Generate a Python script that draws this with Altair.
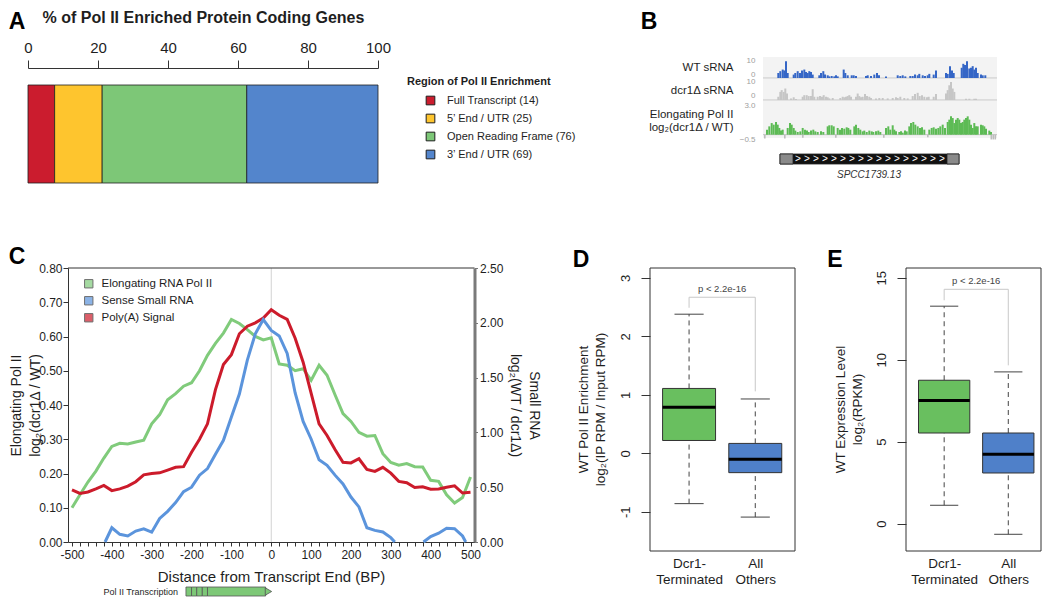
import altair as alt
import pandas as pd

FONT = "Liberation Sans"
W, H = 1034, 591          # drawing area (page minus the 8px body margin)
M = 8


def v(p):
    """page pixel -> view pixel"""
    return p - M


# ------------------------------------------------------------------ data
# Panel A
a_regions = ["Full Transcript (14)", "5\u2019 End / UTR (25)",
             "Open Reading Frame (76)", "3\u2019 End / UTR (69)"]
a_counts = [14, 25, 76, 69]
a_colors = ["#CB1C2E", "#FEC52E", "#7DC777", "#5385CC"]

# Panel B (locus position 0-234)
wt_pos = [14.3, 16.3, 18.7, 20.3, 22, 23.7, 29.7, 31.3, 33.7, 36, 38, 40.3, 42, 43.7, 45.3, 47, 48.7,
          55.3, 57, 59.3, 61, 63.7, 65.3, 67.7, 70.3, 72, 73.7, 79.7, 81.3, 83.7, 87.7, 89.7, 92,
          102, 103.7, 107, 110.3, 113, 115, 122, 133.7, 136.3, 138.7, 141.3, 146.3, 148.7, 151,
          153.7, 155.3, 158.7, 161, 163.7, 165.3, 169.7, 172, 182, 183.7, 186, 188, 189.7, 197.7,
          199.3, 201, 203, 205.3, 207, 208.7, 210.3, 212, 213.7, 217, 218.7, 221.3]
wt_val = [2.8, 3.8, 4.7, 4.2, 9.4, 2.8, 1.9, 2.8, 3.8, 2.8, 4.2, 4.7, 3.4, 2.8, 3.8, 3.4, 1.9,
          1.5, 2.8, 3.8, 1.9, 1.5, 0.9, 1.1, 0.9, 1.5, 0.9, 4.7, 2.8, 1.5, 1.5, 1.5, 1.1,
          1.1, 1.5, 1.1, 1.9, 2.8, 1.5, 0.9, 1.5, 1.1, 1.5, 0.9, 1.1, 1.1, 1.9,
          1.5, 2.3, 1.5, 1.1, 1.5, 2.3, 1.9, 4.2, 2.8, 2.3, 6.6, 4.2, 2.8, 5.7,
          7.9, 7.2, 9.4, 5.3, 5.7, 6.6, 4.7, 5.7, 2.8, 1.9, 1.5, 1.5]
dcr_pos = [14.3, 16.3, 17.7, 19.7, 21.3, 23, 27, 29.7, 32, 38.7, 40.3, 42.7, 44.7, 47, 48.7, 50.3,
           53.7, 56, 58, 59.7, 62, 63.7, 65.3, 68.7, 76.3, 78.7, 80.3, 82, 83.7, 85.3, 87,
           92, 93.7, 95.3, 97, 98.7, 101, 103, 105.3, 107, 112, 115.3, 118.7, 123.7, 128.7, 132,
           133.7, 136.3, 140.3, 143.7, 148.7, 151, 153.7, 155.7, 158, 160.3, 163, 164.7, 169.7, 172,
           182, 183.7, 185.3, 187, 188.7, 190.3, 202, 205.3, 210.3, 212]
dcr_val = [1.8, 4.5, 5.5, 4.5, 6.4, 3.6, 0.9, 1.5, 0.5, 1.8, 2.7, 2.7, 2.2, 2.2, 6.0, 1.8,
           1.8, 2.2, 1.8, 2.7, 1.8, 1.5, 0.9, 1.1, 1.1, 1.8, 1.5, 1.8, 2.2, 2.7, 1.8,
           1.8, 3.6, 2.2, 1.5, 1.8, 3.3, 2.2, 1.8, 1.1, 0.9, 1.1, 1.1, 0.9, 1.1, 1.5,
           1.1, 1.8, 1.1, 0.9, 2.2, 3.3, 4.0, 2.2, 2.7, 1.8, 1.5, 1.8, 1.8, 3.3,
           3.6, 5.5, 8.2, 10.0, 6.4, 4.5, 0.7, 0.7, 0.7, 0.7]
pol_pos = [3, 5.3, 7.7, 9.7, 12, 13.7, 15.3, 17, 18.7, 23.7, 26, 27.7, 29.7, 31.3, 33.7, 36.3,
           38.7, 41, 43, 44.7, 47, 49.3, 51.3, 53.7, 57, 59.3, 63.7, 65.3, 67.7, 69.7, 73.7, 76,
           78, 80.3, 82.7, 84.3, 86.3, 90.3, 92, 94.3, 96.3, 98.7, 100.3, 102.7, 105.3, 107.7,
           109.3, 112, 114.3, 116.3, 122, 124.3, 126.3, 128.7, 130.3, 132, 135.3, 137, 138.7, 141,
           142.7, 145.3, 147, 149.3, 151.3, 153.7, 156, 158, 160.3, 165.3, 167.7, 169.7, 172,
           174.3, 176.3, 178.7, 181, 183.7, 185.3, 187, 188.7, 190.3, 192, 193.7, 195.3, 197,
           198.7, 200.3, 202, 203.7, 205.3, 207, 208.7, 210.3, 212, 213.7, 217, 218.7, 220.3, 222,
           225.3, 227]
pol_val = [0.47, 0.78, 1.09, 0.94, 1.19, 0.94, 0.63, 0.38, 0.47, 0.63, 1.09, 0.94, 0.63, 0.38,
           0.25, 0.31, 0.63, 0.47, 0.38, 0.25, 0.38, 0.47, 0.31, 0.25, 0.31, 0.25, 0.78, 0.88,
           0.88, 0.78, 0.63, 0.47, 0.63, 0.56, 0.69, 0.63, 0.47, 0.78, 0.94, 0.63, 0.47, 0.31,
           0.38, 0.25, 0.38, 0.31, 0.25, 0.31, 0.38, 0.25, 0.63, 0.78, 0.47, 0.88, 0.47, 0.31,
           0.25, 0.31, 0.19, 0.38, 0.31, 0.78, 1.09, 1.19, 0.94, 0.78, 0.63, 0.69, 0.47, 0.47,
           0.63, 0.69, 0.56, 0.63, 0.78, 0.94, 0.63, 1.19, 1.41, 1.72, 1.56, 1.09, 1.41, 1.56,
           1.41, 1.09, 1.19, 1.41, 1.56, 1.72, 1.41, 0.94, 0.63, 1.09, 0.78, 0.78, 0.94, 0.88,
           0.78, 0.56, 0.38, 0.25]
# small negative (grey) Pol II bins below the baseline
pol_neg_pos = [1, 21, 39, 72, 120, 164, 227.5, 229.5, 231.5]
pol_neg_val = [-0.35, -0.35, -0.3, -0.3, -0.3, -0.25, -0.45, -0.45, -0.45]
gene_part = ["CDS", "UTR", "UTR"]
gene_start = [17, 17, 184]
gene_end = [196, 30, 196]
gene_arrows = [35, 44, 53, 62, 71, 80, 89, 98, 107, 116, 125, 134, 143, 152, 161, 170, 179]
gene_name = "SPCC1739.13"

# Panel C
c_names = ["Elongating RNA Pol II", "Sense Small RNA", "Poly(A) Signal"]
c_bp = [-500, -480, -460, -440, -420, -400, -380, -360, -340, -320, -300, -280, -260, -240, -220,
        -200, -180, -160, -140, -120, -100, -80, -60, -40, -20, 0, 20, 40, 60, 80, 100, 120, 140,
        160, 180, 200, 220, 240, 260, 280, 300, 320, 340, 360, 380, 400, 420, 440, 460, 480, 500]
c_pol = [0.10, 0.138, 0.175, 0.207, 0.245, 0.279, 0.288, 0.286, 0.292, 0.297, 0.345, 0.372, 0.415,
         0.433, 0.455, 0.465, 0.50, 0.545, 0.58, 0.61, 0.65, 0.638, 0.62, 0.60, 0.59, 0.596, 0.52,
         0.516, 0.50, 0.506, 0.472, 0.516, 0.487, 0.43, 0.375, 0.352, 0.32, 0.309, 0.311, 0.258,
         0.232, 0.224, 0.229, 0.22, 0.219, 0.18, 0.177, 0.138, 0.114, 0.13, 0.19]
c_polya = [0.152, 0.142, 0.146, 0.155, 0.165, 0.150, 0.155, 0.163, 0.176, 0.196, 0.200, 0.202,
           0.210, 0.218, 0.220, 0.262, 0.300, 0.345, 0.445, 0.518, 0.547, 0.608, 0.630, 0.640,
           0.654, 0.678, 0.662, 0.650, 0.595, 0.525, 0.435, 0.345, 0.311, 0.270, 0.233, 0.231,
           0.243, 0.212, 0.206, 0.218, 0.201, 0.177, 0.173, 0.159, 0.161, 0.154, 0.155, 0.160,
           0.164, 0.143, 0.145]
c_srna_bp = [-417, -400, -380, -360, -340, -320, -300, -280, -260, -240, -220, -200, -180, -160,
             -140, -120, -100, -80, -60, -40, -20, 0, 20, 40, 60, 80, 100, 120, 140, 160, 180,
             200, 220, 240, 260, 280, 300, 310,
             382, 400, 420, 440, 460, 480, 488]
c_srna = [0.0, 0.13, 0.07, 0.055, 0.10, 0.12, 0.09, 0.215, 0.28, 0.36, 0.46, 0.50, 0.61, 0.67,
          0.80, 0.928, 1.14, 1.35, 1.66, 1.90, 2.03, 1.93, 1.88, 1.72, 1.36, 1.10, 0.94, 0.75,
          0.70, 0.61, 0.53, 0.41, 0.32, 0.13, 0.106, 0.091, 0.04, 0.0,
          0.0, 0.05, 0.08, 0.125, 0.122, 0.055, 0.0]
c_srna_seg = [1] * 38 + [2] * 7
tx_start = [-214, -200, -187, -173, -160]
tx_end = [-200, -187, -173, -160, -14]

# Panels D / E
groups = ["Dcr1-Terminated", "All Others"]
d_min = [-0.86, -1.09]
d_q1 = [0.22, -0.33]
d_med = [0.79, -0.10]
d_q3 = [1.11, 0.17]
d_max = [2.38, 0.93]
d_bracket = [2.49, 2.67, 1.06]
d_p_y = 2.81
e_min = [1.12, -0.65]
e_q1 = [5.53, 3.09]
e_med = [7.51, 4.23]
e_q3 = [8.75, 5.53]
e_max = [13.27, 9.26]
e_bracket = [13.63, 14.3, 9.66]
e_p_y = 14.81
p_label = "p < 2.2e-16"

# ------------------------------------------------------------------ styles
C_GREEN, C_BLUE, C_RED = "#80CB7B", "#5B94DC", "#CC1B2B"
BOX_COLORS = ["#69BF5F", "#4F80C9"]
INK = "#1e1e1e"
one = pd.DataFrame({"k": [0]})

# ------------------------------------------------------------------ panel A
dfA = pd.DataFrame({"region": a_regions, "genes": a_counts, "rank": [0, 1, 2, 3], "row": ["all"] * 4})
panelA = alt.Chart(dfA).transform_joinaggregate(total="sum(genes)").transform_calculate(
    pct="100 * datum.genes / datum.total"
).mark_bar(stroke=INK, strokeWidth=0.8).encode(
    x=alt.X("pct:Q", stack="zero",
            scale=alt.Scale(domain=[0, 100], range=[v(28), v(378)], nice=False, zero=False),
            axis=alt.Axis(orient="top", offset=-v(68), values=[0, 20, 40, 60, 80, 100],
                          tickSize=8, tickColor="#333", domainColor="#333", labelFontSize=15,
                          labelPadding=5, labelFlush=False, labelColor=INK,
                          title="% of Pol II Enriched Protein Coding Genes", titleFontSize=16,
                          titleFontWeight="bold", titleColor=INK, titleX=v(203), titleY=17 - 68,
                          titleBaseline="middle", titleAlign="center")),
    y=alt.Y("row:N", scale=alt.Scale(range=[v(85), v(183)], paddingInner=0, paddingOuter=0), axis=None),
    color=alt.Color("region:N", scale=alt.Scale(domain=a_regions, range=a_colors),
                    legend=alt.Legend(orient="none", legendX=v(407), legendY=v(76),
                                      title="Region of Pol II Enrichment", titleFontSize=11,
                                      titleFontWeight="bold", titleColor=INK, titlePadding=8,
                                      labelFontSize=11, labelColor=INK, symbolType="square",
                                      symbolSize=75, symbolStrokeColor=INK, symbolStrokeWidth=1,
                                      symbolOffset=18, labelOffset=11, rowPadding=5, padding=0)),
    order=alt.Order("rank:Q"),
)

# ------------------------------------------------------------------ panel B
SRNA_BASELINE = {"condition": {"test": "datum.value == 0", "value": "bottom"}, "value": "middle"}
POL_BASELINE = {"condition": {"test": "datum.value > 0", "value": "top"}, "value": "middle"}


def b_axis(title, ty, values, fmt, baseline, loff):
    return alt.Axis(orient="left", offset=-v(757), values=values, format=fmt, ticks=False,
                    tickSize=0, domain=False, labelFontSize=8, labelColor="#a0a0a0",
                    labelPadding=2, labelBaseline=baseline, labelOffset=loff, title=title,
                    titleAngle=0, titleAlign="right", titleBaseline="middle", titleX=733 - 757,
                    titleY=v(ty), titleFontSize=11.5, titleFontWeight="normal", titleColor=INK,
                    titleLineHeight=13.5)


def b_track(pos, val, color, ydom, yrng, bg, axis, neg=None):
    xs = alt.Scale(domain=[0, 234], range=[v(763), v(997)], nice=False, zero=False)
    ys = alt.Scale(domain=ydom, range=yrng, nice=False, zero=False)
    back = alt.Chart(one).mark_rect(color="#f3f3f3").encode(
        x=alt.XDatum(0, type="quantitative", scale=xs, axis=None), x2=alt.X2Datum(234),
        y=alt.YDatum(bg[0], type="quantitative", scale=ys, axis=axis), y2=alt.Y2Datum(bg[1]))
    base = alt.Chart(one).mark_rule(color="#c4c4c4", strokeWidth=1).encode(
        x=alt.XDatum(0, type="quantitative", axis=None), x2=alt.X2Datum(234),
        y=alt.YDatum(0, type="quantitative", axis=axis))
    bars = alt.Chart(pd.DataFrame({"pos": pos, "val": val})).transform_calculate(
        pos2="datum.pos + 2.0").mark_rect(color=color).encode(
        x=alt.X("pos:Q", axis=None), x2="pos2:Q",
        y=alt.Y("val:Q", axis=axis), y2=alt.Y2Datum(0))
    layers = [back, base, bars]
    if neg is not None:
        layers.append(alt.Chart(pd.DataFrame({"pos": neg[0], "val": neg[1]})).transform_calculate(
            pos2="datum.pos + 1.6").mark_rect(color="#bdbdbd").encode(
            x=alt.X("pos:Q", axis=None), x2="pos2:Q",
            y=alt.Y("val:Q", axis=axis), y2=alt.Y2Datum(0)))
    return alt.layer(*layers)


b_wt = b_track(wt_pos, wt_val, "#3566C6", [0, 11.7], [v(78), v(57)], [0, 11.7],
               b_axis("WT sRNA", 67, [0, 10], "d", SRNA_BASELINE, 0))
b_dcr = b_track(dcr_pos, dcr_val, "#c6c6c6", [0, 11.7], [v(100), v(79)], [0, 11.7],
                b_axis("dcr1\u0394 sRNA", 90, [0, 10], "d", SRNA_BASELINE, -1))
b_pol = b_track(pol_pos, pol_val, "#5DBB55", [-0.5, 3.0], [v(140), v(102.7)], [-0.31, 3.16],
                b_axis(["Elongating Pol II", "log\u2082(dcr1\u0394 / WT)"], 114, [-0.5, 3.0], ".1f",
                       POL_BASELINE, -1),
                neg=(pol_neg_pos, pol_neg_val))

gx = alt.Scale(domain=[0, 234], range=[v(763), v(997)], nice=False, zero=False)
gy = alt.Scale(range=[v(154), v(164)], paddingInner=0, paddingOuter=0)
gene_df = pd.DataFrame({"part": gene_part, "start": gene_start, "end": gene_end, "row": ["g"] * 3})
g_rect = alt.Chart(gene_df).mark_rect(stroke="#222", strokeWidth=0.8).encode(
    x=alt.X("start:Q", scale=gx, axis=None), x2="end:Q",
    y=alt.Y("row:N", scale=gy, axis=None),
    color=alt.Color("part:N", scale=alt.Scale(domain=["CDS", "UTR"], range=["#111111", "#8a8a8a"]),
                    legend=None))
g_arrow = alt.Chart(pd.DataFrame({"pos": gene_arrows, "row": ["g"] * len(gene_arrows),
                                  "t": [">"] * len(gene_arrows)})
                    ).mark_text(color="white", fontSize=10, baseline="middle").encode(
    x=alt.X("pos:Q", axis=None), y=alt.Y("row:N", axis=None), text="t:N")
g_name = alt.Chart(pd.DataFrame({"pos": [106], "row": ["g"], "t": [gene_name]})).mark_text(
    color="#333", fontSize=10, fontStyle="italic", dy=16, baseline="middle").encode(
    x=alt.X("pos:Q", axis=None), y=alt.Y("row:N", axis=None), text="t:N")
b_gene = alt.layer(g_rect, g_arrow, g_name)

# ------------------------------------------------------------------ panel C
cx = alt.Scale(domain=[-510, 510], range=[v(68), v(474.5)], nice=False, zero=False)
cyl = alt.Scale(domain=[0, 0.8], range=[v(542), v(268)], nice=False, zero=False)
cyr = alt.Scale(domain=[0, 2.5], range=[v(542), v(268)], nice=False, zero=False)

axC_x = alt.Axis(orient="bottom", offset=v(542) - H, values=list(range(-500, 501, 20)),
                 labelExpr="datum.value % 100 == 0 ? '' + datum.value : ''", tickSize=4,
                 tickColor="#333", domainColor="#333", labelFontSize=12, labelPadding=3,
                 labelFlush=False, labelOverlap=False, labelColor=INK,
                 title="Distance from Transcript End (BP)", titleFontSize=15,
                 titleFontWeight="normal", titleColor=INK, titleX=v(271), titleY=34,
                 titleBaseline="middle")
axC_l = alt.Axis(orient="left", offset=-v(68), values=[0, 0.1, 0.2, 0.3, 0.4, 0.5, 0.6, 0.7, 0.8],
                 format=".2f", tickSize=5, tickColor="#333", domainColor="#333", labelFontSize=12,
                 labelPadding=1, labelColor=INK,
                 title=["Elongating Pol II", "log\u2082(dcr1\u0394 / WT)"], titleAngle=270,
                 titleX=16 - 68, titleY=v(405), titleBaseline="middle", titleAlign="center",
                 titleFontSize=14, titleFontWeight="normal", titleColor=INK, titleLineHeight=19)
axC_r = alt.Axis(orient="right", offset=v(474.5) - W, values=[0, 0.5, 1.0, 1.5, 2.0, 2.5],
                 format=".2f", tickSize=3, tickColor="#777", domainColor="#7a7a7a", domainWidth=3,
                 labelFontSize=12, labelPadding=2, labelColor=INK,
                 title=["Small RNA", "log\u2082(WT / dcr1\u0394)"], titleAngle=90,
                 titleX=59, titleY=v(405), titleBaseline="middle", titleAlign="center",
                 titleFontSize=14, titleFontWeight="normal", titleColor=INK, titleLineHeight=19)

dfC = pd.DataFrame({"bp": c_bp, "pol": c_pol, "polya": c_polya})
dfS = pd.DataFrame({"bp": c_srna_bp, "val": c_srna, "seg": c_srna_seg})
c_zero = alt.Chart(one).mark_rule(color="#d2d2d2", strokeWidth=1).encode(
    x=alt.XDatum(0, type="quantitative", scale=cx, axis=axC_x),
    y=alt.YDatum(0, type="quantitative", scale=cyl, axis=axC_l), y2=alt.Y2Datum(0.8))
c_top = alt.Chart(one).mark_rule(color="#333", strokeWidth=1).encode(
    x=alt.XDatum(-510, type="quantitative", axis=axC_x), x2=alt.X2Datum(510),
    y=alt.YDatum(0.8, type="quantitative", axis=axC_l))
c_green = alt.Chart(dfC).mark_line(color=C_GREEN, strokeWidth=3).encode(
    x=alt.X("bp:Q", axis=axC_x), y=alt.Y("pol:Q", axis=axC_l))
c_red = alt.Chart(dfC).mark_line(color=C_RED, strokeWidth=3).encode(
    x=alt.X("bp:Q", axis=axC_x), y=alt.Y("polya:Q", axis=axC_l))
c_blue = alt.Chart(dfS).mark_line(color=C_BLUE, strokeWidth=3).encode(
    x=alt.X("bp:Q", axis=axC_x), y=alt.Y("val:Q", scale=cyr, axis=axC_r), detail="seg:N")
panelC = alt.layer(alt.layer(c_zero, c_top, c_green, c_red), c_blue).resolve_scale(y="independent")

legC = alt.Chart(pd.DataFrame({"series": c_names})).transform_filter("false").mark_point(
    shape="square", filled=True).encode(
    fill=alt.Fill("series:N", scale=alt.Scale(domain=c_names, range=[C_GREEN, C_BLUE, C_RED]),
                  legend=alt.Legend(orient="none", legendX=v(83), legendY=v(278), title=None,
                                    labelFontSize=11.5, labelColor=INK, symbolType="square",
                                    symbolSize=70, symbolStrokeColor="#333",
                                    symbolStrokeWidth=1, labelOffset=7, rowPadding=4, padding=0)))

tx_df = pd.DataFrame({"start": tx_start, "end": tx_end, "row": ["t"] * len(tx_start)})
tx_y = alt.Scale(range=[v(587), v(596)], paddingInner=0, paddingOuter=0)
tx_boxes = alt.Chart(tx_df).mark_rect(color="#7DC877", stroke="#555", strokeWidth=0.8).encode(
    x=alt.X("start:Q", scale=cx, axis=None), x2="end:Q", y=alt.Y("row:N", scale=tx_y, axis=None))
tx_tip = alt.Chart(pd.DataFrame({"pos": [-7], "row": ["t"]})).mark_point(
    shape="triangle-right", filled=True, size=55, color="#7DC877", stroke="#555", strokeWidth=0.8,
    opacity=1).encode(x=alt.X("pos:Q", axis=None), y=alt.Y("row:N", axis=None))
tx_label = alt.Chart(pd.DataFrame({"t": ["Pol II Transcription"]})).mark_text(
    fontSize=9, color=INK, align="right", baseline="middle").encode(
    text="t:N", x=alt.value(v(178)), y=alt.value(v(591.5)))
glyph = alt.layer(tx_boxes, tx_tip)


# ------------------------------------------------------------------ panels D / E
def box_panel(mins, q1s, meds, q3s, maxs, xdom, xrng, ydom, yrng, yvals, ytitle, title_x,
              axis_px, bottom_px, bracket, p_y):
    xs = alt.Scale(domain=xdom, range=xrng, nice=False, zero=False)
    ys = alt.Scale(domain=ydom, range=yrng, nice=False, zero=False)
    yaxis = alt.Axis(orient="left", offset=-v(axis_px), values=yvals, labelExpr="'' + datum.value",
                     labelAngle=270, labelAlign="center", labelBaseline="bottom", tickSize=9,
                     tickColor="#333", domain=False, labelFontSize=13, labelPadding=9,
                     labelColor=INK, title=ytitle, titleAngle=270, titleX=title_x - axis_px,
                     titleY=v(409), titleBaseline="middle", titleAlign="center",
                     titleFontSize=13.5, titleFontWeight="normal", titleColor=INK,
                     titleLineHeight=17)
    xaxis = alt.Axis(orient="bottom", offset=v(bottom_px) - H, values=[1, 2],
                     labelExpr="datum.value == 1 ? ['Dcr1-', 'Terminated'] : ['All', 'Others']",
                     ticks=False, tickSize=0, domain=False, labelFontSize=13.5, labelLineHeight=16,
                     labelPadding=5, labelBaseline="top", labelFlush=False, labelColor=INK,
                     title=None)
    frame = alt.Chart(one).mark_rect(fillOpacity=0, stroke="#333", strokeWidth=1).encode(
        x=alt.XDatum(xdom[0], type="quantitative", scale=xs, axis=xaxis), x2=alt.X2Datum(xdom[1]),
        y=alt.YDatum(ydom[0], type="quantitative", scale=ys, axis=yaxis), y2=alt.Y2Datum(ydom[1]))
    df = pd.DataFrame({"group": groups, "gx": [1, 2], "lo": mins, "q1": q1s, "med": meds,
                       "q3": q3s, "hi": maxs})
    base = alt.Chart(df).transform_calculate(bl="datum.gx - 0.4", br="datum.gx + 0.4",
                                             cl="datum.gx - 0.22", cr="datum.gx + 0.22")
    w_up = base.mark_rule(color="#444", strokeDash=[5, 4], strokeWidth=1).encode(
        x=alt.X("gx:Q", axis=xaxis), y=alt.Y("q3:Q", axis=yaxis), y2="hi:Q")
    w_dn = base.mark_rule(color="#444", strokeDash=[5, 4], strokeWidth=1).encode(
        x=alt.X("gx:Q", axis=xaxis), y=alt.Y("lo:Q", axis=yaxis), y2="q1:Q")
    cap_up = base.mark_rule(color="#444", strokeWidth=1).encode(
        x=alt.X("cl:Q", axis=xaxis), x2="cr:Q", y=alt.Y("hi:Q", axis=yaxis))
    cap_dn = base.mark_rule(color="#444", strokeWidth=1).encode(
        x=alt.X("cl:Q", axis=xaxis), x2="cr:Q", y=alt.Y("lo:Q", axis=yaxis))
    box = base.mark_rect(stroke="#333", strokeWidth=1).encode(
        x=alt.X("bl:Q", axis=xaxis), x2="br:Q", y=alt.Y("q1:Q", axis=yaxis), y2="q3:Q",
        color=alt.Color("group:N", scale=alt.Scale(domain=groups, range=BOX_COLORS), legend=None))
    med = base.mark_rule(color="black", strokeWidth=3).encode(
        x=alt.X("bl:Q", axis=xaxis), x2="br:Q", y=alt.Y("med:Q", axis=yaxis))
    br_df = pd.DataFrame({"x": [1, 1, 2], "x2": [1, 2, 2],
                          "y": [bracket[0], bracket[1], bracket[1]],
                          "y2": [bracket[1], bracket[1], bracket[2]]})
    brk = alt.Chart(br_df).mark_rule(color="#c8c8c8", strokeWidth=1).encode(
        x=alt.X("x:Q", axis=xaxis), x2="x2:Q", y=alt.Y("y:Q", axis=yaxis), y2="y2:Q")
    ptxt = alt.Chart(pd.DataFrame({"x": [1.5], "y": [p_y], "t": [p_label]})).mark_text(
        fontSize=9.5, color="#444", baseline="middle").encode(
        x=alt.X("x:Q", axis=xaxis), y=alt.Y("y:Q", axis=yaxis), text="t:N")
    return alt.layer(frame, w_up, w_dn, cap_up, cap_dn, box, med, brk, ptxt)


panelD = box_panel(d_min, d_q1, d_med, d_q3, d_max, [0.41, 2.6], [v(650), v(795)],
                   [-1.67, 3.17], [v(551), v(268)], [-1, 0, 1, 2, 3],
                   ["WT Pol II Enrichment", "log\u2082(IP RPM / Input RPM)"], 583, 650, 551,
                   d_bracket, d_p_y)
panelE = box_panel(e_min, e_q1, e_med, e_q3, e_max, [0.405, 2.51], [v(906), v(1041)],
                   [-1.67, 15.6], [v(551), v(268)], [0, 5, 10, 15],
                   ["WT Expression Level", "log\u2082(RPKM)"], 840, 906, 551,
                   e_bracket, e_p_y)


# ------------------------------------------------------------------ panel letters
def letter(ch, x, y):
    return alt.Chart(pd.DataFrame({"t": [ch]})).mark_text(
        fontSize=23, fontWeight="bold", color="black", align="center", baseline="top").encode(
        text="t:N", x=alt.value(v(x)), y=alt.value(v(y)))


letters = [letter("A", 17, 11), letter("B", 649, 11), letter("C", 17, 246),
           letter("D", 581, 249), letter("E", 835, 249)]

chart = alt.layer(
    panelA, b_wt, b_dcr, b_pol, b_gene, panelC, legC, glyph, tx_label, panelD, panelE, *letters
).resolve_scale(
    x="independent", y="independent", color="independent", fill="independent"
).properties(
    width=W, height=H, padding=0, autosize=alt.AutoSizeParams(type="none")
).configure(font=FONT).configure_view(stroke=None).configure_axis(
    grid=False, labelFont=FONT, titleFont=FONT
).configure_legend(labelFont=FONT, titleFont=FONT)

chart.save("out.html", embed_options={"renderer": "svg", "actions": False})
